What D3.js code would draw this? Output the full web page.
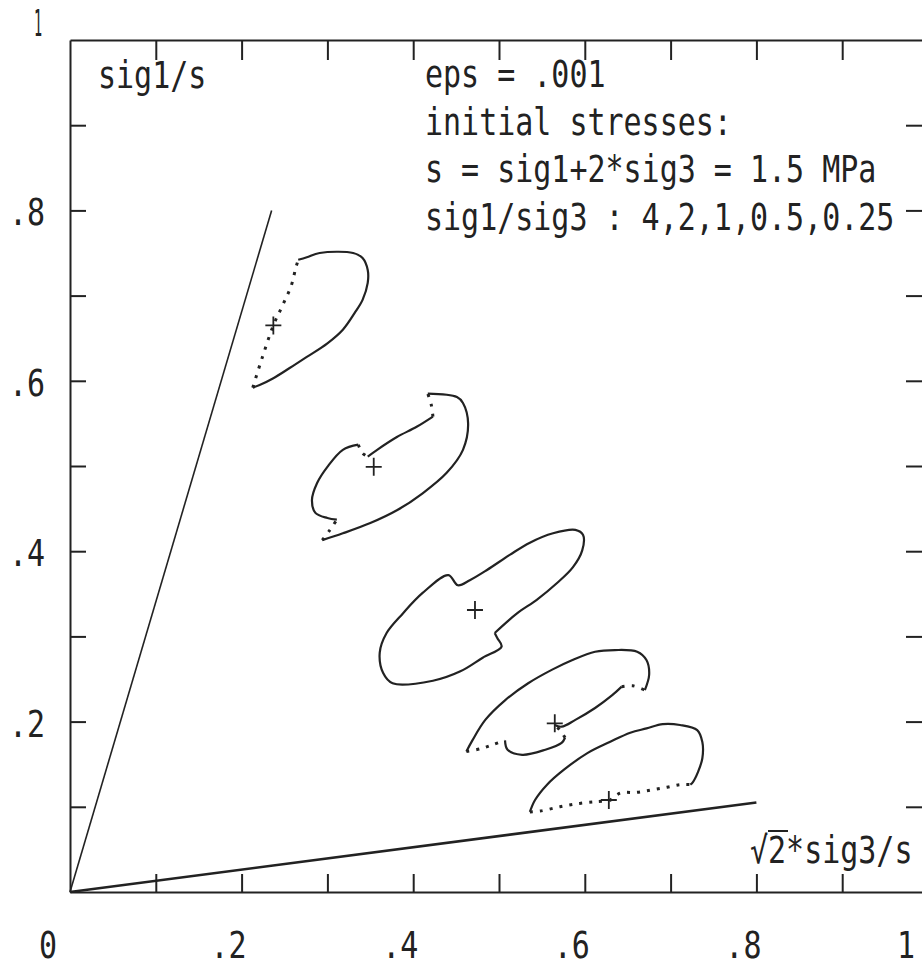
<!DOCTYPE html>
<html>
<head>
<meta charset="utf-8">
<script src="https://cdn.jsdelivr.net/npm/d3@7"></script>
<style>
  body { margin: 0; background: #fff; }
  text { font-family: "DejaVu Sans Mono", monospace; fill: #222; }
</style>
</head>
<body>
<div id="graphic"></div>
<script>
// axis labels
var xLabelVals = [0, 0.2, 0.4, 0.6, 0.8, 1];
var xLabels = ["0", ".2", ".4", ".6", ".8", "1"];
var yLabelVals = [0.2, 0.4, 0.6, 0.8, 1];
var yLabels = [".2", ".4", ".6", ".8", "1"];
var tickVals = [0.1, 0.2, 0.3, 0.4, 0.5, 0.6, 0.7, 0.8, 0.9];

var infoLines = ["eps = .001", "initial stresses:", "s = sig1+2*sig3 = 1.5 MPa", "sig1/sig3 : 4,2,1,0.5,0.25"];

// bounding lines through origin
var upperLine = [[0, 0], [0.235, 0.80]];
var lowerLine = [[0, 0], [0.80, 0.105]];

// initial stress points (+)
var startPts = [[0.237, 0.665], [0.354, 0.499], [0.472, 0.331], [0.565, 0.198], [0.628, 0.108]];

// loops: [style, points]
var loop1 = [
  ["solid", [[0.266,0.742],[0.276,0.745],[0.291,0.750],[0.330,0.750],[0.341,0.744],[0.347,0.730],[0.347,0.715],[0.341,0.695],[0.332,0.680],[0.318,0.660],[0.300,0.644],[0.276,0.628],[0.256,0.615],[0.237,0.603],[0.221,0.595],[0.213,0.592]]],
  ["dot", [[0.213,0.592],[0.224,0.627],[0.237,0.665],[0.248,0.689],[0.258,0.712],[0.263,0.732],[0.266,0.742]]]
];
var loop2 = [
  ["solid", [[0.347,0.511],[0.358,0.519],[0.381,0.534],[0.404,0.546],[0.423,0.558]]],
  ["dot", [[0.423,0.558],[0.421,0.572],[0.417,0.585]]],
  ["solid", [[0.417,0.585],[0.451,0.581],[0.458,0.574],[0.464,0.550],[0.458,0.519],[0.439,0.492],[0.411,0.468],[0.381,0.448],[0.350,0.433],[0.318,0.421],[0.294,0.413]]],
  ["dot", [[0.294,0.413],[0.303,0.425],[0.311,0.437]]],
  ["solid", [[0.311,0.437],[0.300,0.439],[0.286,0.445],[0.282,0.460],[0.288,0.480],[0.300,0.499],[0.318,0.519],[0.336,0.525]]],
  ["dot", [[0.336,0.525],[0.341,0.515],[0.347,0.511]]]
];
var loop3 = [
  ["solid", [[0.495,0.304],[0.521,0.327],[0.544,0.343],[0.568,0.363],[0.586,0.381],[0.597,0.401],[0.598,0.419],[0.589,0.425],[0.563,0.421],[0.536,0.410],[0.513,0.396],[0.486,0.378],[0.466,0.366],[0.452,0.360],[0.441,0.372],[0.411,0.351],[0.388,0.327],[0.369,0.304],[0.361,0.281],[0.365,0.257],[0.376,0.245],[0.423,0.248],[0.455,0.259],[0.481,0.275],[0.503,0.288],[0.498,0.298],[0.495,0.304]]]
];
var loop4 = [
  ["solid", [[0.565,0.196],[0.573,0.194],[0.589,0.202],[0.612,0.216],[0.632,0.231],[0.643,0.241]]],
  ["dot", [[0.643,0.241],[0.656,0.242],[0.670,0.237]]],
  ["solid", [[0.670,0.237],[0.675,0.255],[0.672,0.272],[0.661,0.282],[0.635,0.284],[0.612,0.282],[0.585,0.272],[0.562,0.261],[0.534,0.245],[0.507,0.225],[0.484,0.202],[0.469,0.178],[0.462,0.165]]],
  ["dot", [[0.462,0.165],[0.478,0.168],[0.493,0.173],[0.507,0.178]]],
  ["solid", [[0.507,0.178],[0.510,0.167],[0.527,0.161],[0.554,0.167],[0.573,0.175],[0.577,0.181]]],
  ["dot", [[0.577,0.181],[0.571,0.190],[0.565,0.196]]]
];
var loop5 = [
  ["dot", [[0.629,0.107],[0.641,0.116],[0.661,0.117],[0.679,0.120],[0.696,0.123],[0.711,0.126],[0.723,0.126]]],
  ["solid", [[0.723,0.126],[0.726,0.129],[0.732,0.141],[0.737,0.157],[0.737,0.176],[0.731,0.190],[0.711,0.196],[0.691,0.197],[0.672,0.192],[0.653,0.187],[0.629,0.176],[0.603,0.163],[0.575,0.143],[0.556,0.126],[0.542,0.108],[0.536,0.094]]],
  ["dot", [[0.536,0.094],[0.548,0.095],[0.571,0.100],[0.594,0.104],[0.614,0.106],[0.629,0.107]]]
];
var loops = [loop1, loop2, loop3, loop4, loop5];

var width = 922, height = 967;
var x = d3.scaleLinear().domain([0, 1]).range([70, 928]);
var y = d3.scaleLinear().domain([0, 1]).range([892, 40]);
var ink = "#222";

var svg = d3.select("#graphic").append("svg")
  .attr("width", width)
  .attr("height", height);

// frame + inward ticks
svg.append("g").attr("transform", "translate(0," + y(0) + ")")
  .call(d3.axisBottom(x).tickValues(tickVals).tickSizeInner(-18).tickSizeOuter(0).tickFormat(""));
svg.append("g").attr("transform", "translate(0," + y(1) + ")")
  .call(d3.axisTop(x).tickValues(tickVals).tickSizeInner(-20).tickSizeOuter(0).tickFormat(""));
svg.append("g").attr("transform", "translate(" + x(0) + ",0)")
  .call(d3.axisLeft(y).tickValues(tickVals).tickSizeInner(-16).tickSizeOuter(0).tickFormat(""));
svg.append("g").attr("transform", "translate(" + x(1) + ",0)")
  .call(d3.axisRight(y).tickValues(tickVals).tickSizeInner(-22).tickSizeOuter(0).tickFormat(""));
svg.selectAll(".domain, .tick line").attr("stroke", ink).attr("stroke-width", 2);

// scaled mono text helper (tall narrow plotter font)
function label(px, py, str, anchor, sx) {
  var g = svg.append("g").attr("transform", "translate(" + px + "," + py + ") scale(" + (sx || 1) + ",1.23)");
  g.append("text").attr("font-size", 30).attr("text-anchor", anchor || "start").text(str);
  return g;
}

xLabelVals.forEach(function(v, i) {
  var off = xLabels[i].length == 1 ? -22 : -13;
  label(x(v) + off, 958, xLabels[i], "middle");
});
yLabelVals.forEach(function(v, i) {
  if (v == 1) label(38, 36, yLabels[i], "middle", 0.45);
  else label(9, y(v) + 15, yLabels[i]);
});

label(98, 88, "sig1/s");
infoLines.forEach(function(t, i) { label(425, 87 + i * 47.7, t); });
label(750, 863, "√2*sig3/s");
svg.append("line").attr("x1", 768).attr("x2", 788).attr("y1", 831).attr("y2", 831)
  .attr("stroke", ink).attr("stroke-width", 2);

var line = d3.line().x(function(d) { return x(d[0]); }).y(function(d) { return y(d[1]); });

svg.append("path").attr("d", line(upperLine)).attr("fill", "none")
  .attr("stroke", ink).attr("stroke-width", 1.6);
svg.append("path").attr("d", line(lowerLine)).attr("fill", "none")
  .attr("stroke", ink).attr("stroke-width", 2.6);

var curved = d3.line().curve(d3.curveCatmullRom)
  .x(function(d) { return x(d[0]); }).y(function(d) { return y(d[1]); });

loops.forEach(function(lp) {
  lp.forEach(function(seg) {
    var p = svg.append("path").attr("d", curved(seg[1]))
      .attr("fill", "none").attr("stroke", ink);
    if (seg[0] == "dot") p.attr("stroke-width", 3).attr("stroke-dasharray", "3,7");
    else p.attr("stroke-width", 2.2);
  });
});

// + markers
startPts.forEach(function(d) {
  var cx = x(d[0]), cy = y(d[1]);
  svg.append("path")
    .attr("d", "M" + (cx - 8) + "," + cy + "H" + (cx + 8) + "M" + cx + "," + (cy - 9) + "V" + (cy + 9))
    .attr("stroke", ink).attr("stroke-width", 1.8);
});
</script>
</body>
</html>
